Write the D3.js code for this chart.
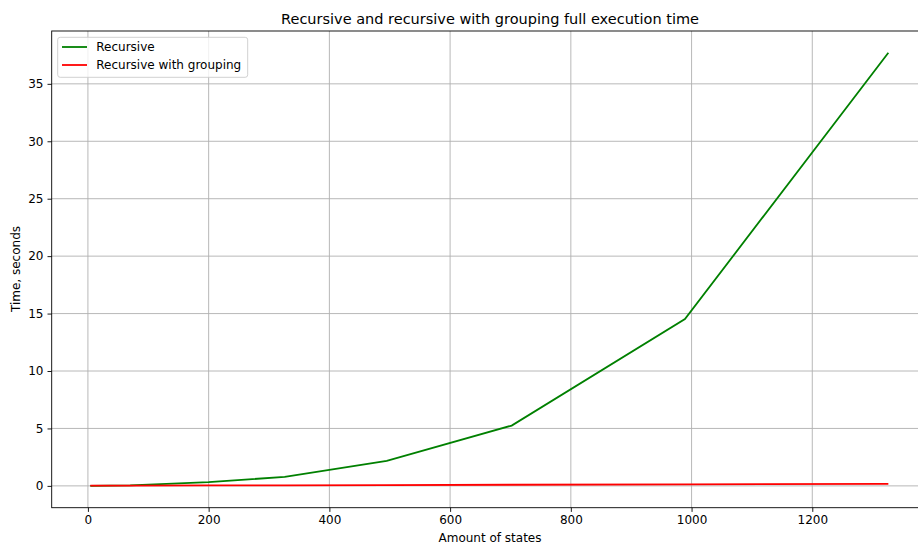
<!DOCTYPE html>
<html>
<head>
<meta charset="utf-8">
<script src="https://cdn.jsdelivr.net/npm/d3@7"></script>
<style>
    body { margin: 0; background: #fff; }
    svg { display: block; overflow: hidden; }
    text { font-family: "DejaVu Sans", sans-serif; fill: #000; }
</style>
</head>
<body>
<svg id="chart" width="918" height="545"></svg>
<script>
// values
const states = [4, 70, 200, 326, 495, 702, 989, 1326];
const recursive = [0.0, 0.05, 0.33, 0.78, 2.18, 5.25, 14.52, 37.7];
const grouping = [0.02, 0.03, 0.04, 0.05, 0.07, 0.1, 0.13, 0.17];
const xTicks = [0, 200, 400, 600, 800, 1000, 1200];
const yTicks = [0, 5, 10, 15, 20, 25, 30, 35];
const xLimits = [-60, 1393];
const yLimits = [-1.9, 39.6];
const seriesNames = ["Recursive", "Recursive with grouping"];

const svg = d3.select('#chart');
const plot = {left: 51.7, right: 928.8, top: 31, bottom: 507.7};

let x = d3.scaleLinear().domain(xLimits).range([plot.left, plot.right]);
let y = d3.scaleLinear().domain(yLimits).range([plot.bottom, plot.top]);

// grid
let grid = svg.append('g').attr('stroke', '#b0b0b0').attr('stroke-width', 0.9);
grid.selectAll('line.gx')
    .data(xTicks)
    .enter()
    .append('line')
    .attr('x1', d => x(d)).attr('x2', d => x(d))
    .attr('y1', plot.top).attr('y2', plot.bottom);
grid.selectAll('line.gy')
    .data(yTicks)
    .enter()
    .append('line')
    .attr('x1', plot.left).attr('x2', plot.right)
    .attr('y1', d => y(d)).attr('y2', d => y(d));

// series
let lineGen = (vals) => d3.line()
    .x((d, i) => x(states[i]))
    .y(d => y(d))(vals);

svg.append('path')
    .attr('d', lineGen(recursive))
    .attr('fill', 'none')
    .attr('stroke', 'green')
    .attr('stroke-width', 1.8);
svg.append('path')
    .attr('d', lineGen(grouping))
    .attr('fill', 'none')
    .attr('stroke', 'red')
    .attr('stroke-width', 1.8);

// axes
let xAxis = d3.axisBottom(x).tickValues(xTicks).tickSize(4.2).tickPadding(4).tickFormat(d3.format('d'));
let yAxis = d3.axisLeft(y).tickValues(yTicks).tickSize(4.2).tickPadding(4).tickFormat(d3.format('d'));

let gx = svg.append('g').attr('transform', `translate(0,${plot.bottom})`).call(xAxis);
let gy = svg.append('g').attr('transform', `translate(${plot.left},0)`).call(yAxis);
[gx, gy].forEach(g => {
    g.select('.domain').remove();
    g.selectAll('line').attr('stroke', '#000').attr('stroke-width', 0.9);
    g.selectAll('text').style('font-size', '12px').attr('fill', '#000');
});

// spines
svg.append('rect')
    .attr('x', plot.left).attr('y', plot.top)
    .attr('width', plot.right - plot.left)
    .attr('height', plot.bottom - plot.top)
    .attr('fill', 'none')
    .attr('stroke', '#000')
    .attr('stroke-width', 0.9);

// labels
svg.append('text')
    .attr('x', 490).attr('y', 23.5)
    .attr('text-anchor', 'middle')
    .style('font-size', '14.5px')
    .text('Recursive and recursive with grouping full execution time');
svg.append('text')
    .attr('x', 490).attr('y', 541.5)
    .attr('text-anchor', 'middle')
    .style('font-size', '12px')
    .text('Amount of states');
svg.append('text')
    .attr('transform', 'translate(20,269) rotate(-90)')
    .attr('text-anchor', 'middle')
    .style('font-size', '12px')
    .text('Time, seconds');

// legend
let legend = svg.append('g');
legend.append('rect')
    .attr('x', 57.7).attr('y', 37.3)
    .attr('width', 190).attr('height', 40)
    .attr('rx', 2.5)
    .attr('fill', '#fff').attr('fill-opacity', 0.8)
    .attr('stroke', '#cccccc').attr('stroke-width', 0.9);
let colors = ['green', 'red'];
seriesNames.forEach((name, i) => {
    let ly = 47 + i * 18;
    legend.append('line')
        .attr('x1', 62).attr('x2', 87)
        .attr('y1', ly).attr('y2', ly)
        .attr('stroke', colors[i]).attr('stroke-width', 1.8);
    legend.append('text')
        .attr('x', 96.3).attr('y', ly)
        .attr('dy', '0.36em')
        .style('font-size', '12px')
        .text(name);
});
</script>
</body>
</html>
